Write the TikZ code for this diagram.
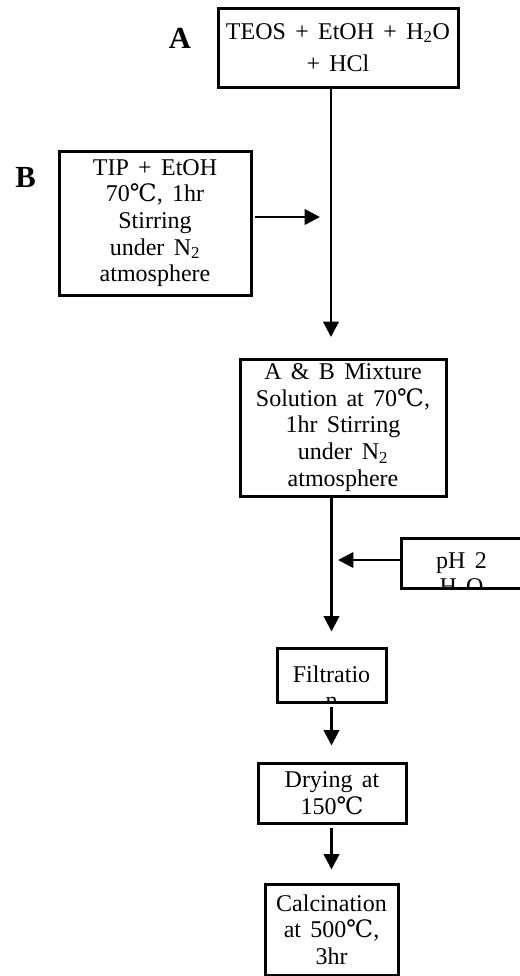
\documentclass[tikz,border=0pt]{standalone}
\usepackage{fontspec}
\setmainfont{Liberation Serif}
\newfontfamily\degfont{DejaVu Serif}
\usetikzlibrary{arrows.meta, positioning}
\newcommand{\degC}{{\degfont ℃}}
\newcommand{\widesp}[1]{\spaceskip=#1 plus 1pt minus 1pt\relax}

\begin{document}
\begin{tikzpicture}[x=0.75pt, y=-0.75pt, >={Triangle[length=11.5pt, width=11.5pt]},
  boxfont/.style={font=\fontsize{18}{20}\selectfont\widesp{7pt}},
  stepbox/.style={draw, rectangle, line width=2.25pt, align=center, inner sep=2pt, boxfont},
  flow/.style={->, line width=2pt},
  tag/.style={font=\fontsize{23}{26}\selectfont\bfseries}]
\useasboundingbox (0,0) rectangle (520,976);
\clip (0,0) rectangle (520,976);

\node[tag] (LA) at (180,38) {A};
\node[tag] (LB) at (25.5,177.5) {B};

\node[stepbox, minimum width=180pt, minimum height=59.25pt, font=\fontsize{18}{24}\selectfont\widesp{7pt}] (SA) at (338,47.5) {TEOS + EtOH + H\textsubscript{2}O\\+ HCl};
\node[stepbox, minimum width=144pt, minimum height=108pt] (SB) at (155,223) {TIP + EtOH\\70\degC, 1hr\\Stirring\\under N\textsubscript{2}\\atmosphere};
\node[stepbox, minimum width=154.5pt, minimum height=102.75pt] (MIX) at (343,427.5) {A \& B Mixture\\Solution at 70\degC,\\1hr Stirring\\under N\textsubscript{2}\\atmosphere};
\node[stepbox, minimum width=90.75pt, minimum height=37.5pt,
  path picture={\node[boxfont, align=center, inner sep=0pt, anchor=north] at ([yshift=10.7pt]path picture bounding box.center) {pH 2\\H\textsubscript{2}O};}] (PH) at (461.5,563) {};
\node[stepbox, minimum width=81.75pt, minimum height=40.5pt,
  path picture={\node[boxfont, align=center, inner sep=0pt, anchor=north] at ([yshift=12.3pt]path picture bounding box.center) {Filtratio\\n};}] (FIL) at (331.5,675) {};
\node[stepbox, minimum width=111pt, minimum height=45pt] (DRY) at (332,793) {Drying at\\150\degC};
\node[stepbox, minimum width=99.75pt, minimum height=68.25pt] (CAL) at (331.5,929.5) {Calcination\\at 500\degC,\\3hr};

\coordinate (J1) at (331,337);
\coordinate (J2) at (320,217);
\coordinate (J3) at (338,560);
\draw[flow] (SA.south -| J1) -- (J1);
\draw[flow, shorten <=1.5pt] (SB.east |- J2) -- (J2);
\draw[flow] (PH.west |- J3) -- (J3);
\draw[flow, shorten >=11.25pt] (MIX.south -| FIL.north) -- (FIL.north);
\draw[flow, shorten <=2.25pt, shorten >=12pt] (FIL.south) -- (FIL.south |- DRY.north);
\draw[flow, shorten <=2.25pt, shorten >=9.75pt] (DRY.south -| FIL.south) -- (CAL.north -| FIL.south);

\end{tikzpicture}
\end{document}
